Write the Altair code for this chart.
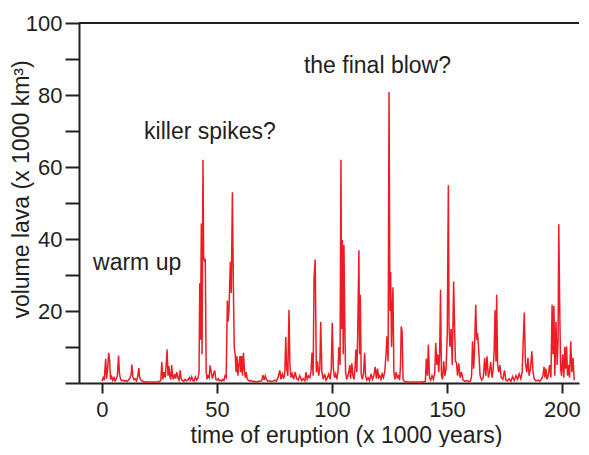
import altair as alt
import pandas as pd

# ---- data (time in kyr, volume in 1000 km^3) ----
t_warmup = [0.0, 0.5, 1.0, 1.3, 1.6, 2.0, 2.4, 2.9, 3.3, 3.7,
            4.2, 4.7, 5.2, 5.7, 6.2, 6.7, 7.2, 7.6, 8.1, 8.6,
            9.2, 9.8, 10.4, 11.0, 11.6, 12.2, 12.7, 13.0, 13.4, 13.9,
            14.4, 15.0, 15.6, 16.0, 16.4, 16.9, 17.5, 18.2, 19.0, 20.0,
            21.0, 22.0, 23.0, 24.0, 25.0, 25.6, 26.0, 26.5, 27.0, 27.5,
            28.0, 28.3, 28.7, 29.1, 29.5, 29.9, 30.3, 30.6, 31.0, 31.5,
            32.0, 32.5, 33.0, 33.5, 34.0, 34.4, 34.9, 35.5, 36.1, 36.7,
            37.3, 38.0, 38.5, 39.0, 39.5, 40.0, 40.6, 41.2, 41.8, 42.2]
v_warmup = [0.5, 1.5, 0.8, 4.0, 6.7, 1.2, 3.5, 8.4, 6.3, 1.0,
            1.8, 0.7, 1.5, 0.6, 1.2, 2.0, 7.6, 2.5, 1.0, 0.6,
            0.8, 0.5, 0.7, 0.4, 0.9, 1.5, 2.5, 5.1, 1.8, 0.9,
            1.2, 0.6, 2.0, 4.2, 1.5, 0.8, 0.5, 0.4, 0.3, 0.3,
            0.3, 0.3, 0.3, 0.3, 0.4, 0.8, 5.8, 1.0, 3.0, 1.5,
            6.0, 9.3, 2.0, 4.7, 1.8, 1.0, 5.0, 2.2, 1.0, 2.5,
            1.2, 3.0, 1.5, 0.8, 3.5, 1.2, 0.7, 0.5, 1.0, 0.6,
            0.8, 1.5, 0.8, 1.7, 0.7, 0.5, 1.7, 0.8, 1.5, 3.0]

t_spikes = [42.5, 42.8, 43.2, 43.5, 43.9, 44.2, 44.6, 44.9, 45.3, 45.7,
            46.1, 46.6, 47.0, 47.5, 48.0, 48.5, 49.0, 49.5, 50.0, 50.5,
            51.0, 51.5, 52.0, 52.5, 53.0, 53.5, 54.0, 54.5, 54.8, 55.2,
            55.8, 56.2, 56.7, 57.1, 57.5, 57.9, 58.3, 58.7, 59.1, 59.5,
            60.0, 60.3, 60.7, 61.1, 61.5, 61.9, 62.3, 62.7, 63.1, 63.6,
            64.2, 64.8, 65.5, 66.2, 67.0, 67.8, 68.6, 69.4, 70.0, 70.5,
            71.0, 71.5, 72.0, 72.8, 73.6, 74.4, 75.2]
v_spikes = [27.7, 12.0, 44.3, 8.0, 62.0, 35.0, 33.7, 34.5, 3.0, 1.0,
            2.0, 1.5, 4.9, 3.0, 1.2, 2.5, 3.5, 1.0, 0.8, 1.2,
            0.6, 0.8, 0.5, 1.0, 0.7, 2.0, 1.5, 22.9, 17.0, 20.0,
            33.7, 25.0, 53.0, 27.7, 10.0, 8.0, 3.0, 7.5, 2.0, 5.0,
            7.5, 3.0, 7.5, 2.0, 8.4, 4.0, 1.5, 3.0, 1.2, 0.8,
            0.5, 0.7, 0.4, 0.5, 0.3, 0.4, 0.5, 0.6, 2.2, 0.8,
            2.0, 1.0, 0.5, 0.6, 0.4, 0.5, 0.8]

t_mid = [75.8, 76.5, 77.3, 77.8, 78.4, 79.0, 79.5, 79.9, 80.3, 80.8,
         81.3, 81.7, 82.2, 82.7, 83.3, 84.0, 84.6, 85.3, 86.0, 86.8,
         87.5, 88.2, 88.7, 89.2, 89.8, 90.4, 90.9, 91.3, 91.8, 92.2,
         92.7, 93.2, 93.7, 94.2, 94.7, 95.1, 95.6, 96.2, 96.8, 97.4,
         98.0, 98.6, 99.2, 99.7, 100.1, 100.6, 101.1, 101.6, 102.1, 102.6,
         103.0, 103.5, 103.9, 104.2, 104.5, 104.9, 105.2, 105.5, 105.9, 106.4,
         106.9, 107.4, 107.7, 108.1, 108.6, 109.1, 109.6, 110.0, 110.4, 110.8,
         111.2, 111.7, 112.0, 112.3, 112.7, 113.2, 113.7, 114.2, 114.6, 115.1,
         115.7, 116.3, 117.0, 117.6, 118.2, 118.8, 119.3, 119.8, 120.3, 120.8,
         121.3, 121.8, 122.4, 123.0, 123.5]
v_mid = [0.5, 1.5, 3.5, 1.0, 2.5, 1.2, 3.0, 12.8, 4.0, 2.0,
         20.3, 5.0, 1.5, 2.5, 1.0, 3.0, 1.2, 0.8, 2.0, 0.7,
         1.2, 0.6, 3.0, 1.0, 2.0, 1.5, 3.5, 8.4, 2.0, 29.3,
         34.3, 3.0, 6.0, 2.0, 4.0, 17.0, 3.0, 1.0, 2.5, 0.8,
         1.5, 2.5, 1.0, 4.0, 16.7, 4.0, 1.5, 2.5, 1.0, 3.0,
         10.0, 5.0, 62.0, 15.0, 39.7, 8.0, 38.3, 20.0, 3.0, 1.0,
         2.0, 3.5, 5.0, 1.2, 5.5, 2.0, 1.0, 4.0, 9.3, 3.0,
         13.9, 36.9, 8.0, 24.5, 2.5, 1.0, 2.5, 8.4, 2.0, 0.8,
         1.5, 0.7, 2.5, 1.0, 2.0, 4.5, 1.2, 4.0, 1.5, 2.0,
         1.0, 2.5, 1.5, 3.5, 8.0]

t_final = [123.9, 124.4, 124.8, 125.2, 125.5, 125.9, 126.2, 126.5, 126.9, 127.4,
           127.9, 128.4, 128.9, 129.4, 129.8, 130.1, 130.5, 130.9, 131.5, 133.0,
           135.0, 137.0, 139.0, 140.2]
v_final = [13.0, 6.0, 80.8, 20.0, 30.8, 10.0, 20.0, 26.6, 3.0, 1.0,
           3.0, 1.5, 2.0, 0.8, 5.0, 15.7, 14.3, 1.0, 0.4, 0.3,
           0.3, 0.3, 0.3, 0.4]

t_late = [140.6, 141.0, 141.5, 141.9, 142.4, 142.9, 143.5, 144.1, 144.7, 145.1,
          145.6, 146.0, 146.4, 146.8, 147.2, 147.6, 148.1, 148.6, 149.1, 149.6,
          150.1, 150.6, 150.9, 151.3, 151.8, 152.3, 152.9, 153.3, 153.7, 154.1,
          154.6, 155.1, 155.7, 156.3, 157.0, 157.8, 158.6, 159.4, 160.2, 160.7,
          161.1, 161.6, 162.0, 162.5, 162.9, 163.3, 163.8, 164.4, 165.1, 165.8,
          166.4, 166.9, 167.4, 168.0, 168.5, 169.0, 169.6, 170.1, 170.5, 170.9,
          171.3, 171.6, 172.0, 172.5, 173.0, 173.6, 174.3, 175.0, 175.6, 176.3,
          177.0, 177.8, 178.5, 179.2, 180.0, 180.7, 181.4, 182.1, 182.7, 183.1,
          183.6, 184.1, 184.7, 185.2, 185.7, 186.3, 186.9, 187.4, 188.0, 188.7,
          189.5, 190.3, 191.0, 191.7, 192.2, 192.6, 193.0, 193.5, 194.0, 194.6,
          195.2, 195.7, 196.1, 196.5, 196.9, 197.4, 197.9, 198.3, 198.6, 199.0,
          199.4, 199.8, 200.3, 200.8, 201.2, 201.6, 202.0, 202.4, 202.8, 203.3,
          203.8, 204.3, 204.8, 205.3]
v_late = [0.5, 6.7, 2.0, 10.7, 1.5, 0.8, 2.0, 1.0, 3.0, 11.1,
          5.0, 8.0, 3.0, 8.0, 25.9, 2.0, 1.0, 6.0, 2.0, 4.0,
          13.0, 54.9, 15.7, 10.0, 15.0, 5.0, 28.2, 15.0, 6.0, 5.7,
          2.0, 5.5, 1.5, 3.0, 0.8, 0.5, 0.7, 0.4, 0.6, 2.0,
          11.6, 4.0, 10.0, 21.7, 12.0, 13.9, 9.0, 2.0, 0.8, 1.5,
          7.0, 2.0, 7.4, 1.5, 3.0, 5.8, 1.5, 4.0, 8.8, 20.2,
          6.0, 24.5, 5.0, 3.0, 5.0, 1.5, 1.0, 3.5, 0.8, 0.6,
          1.2, 0.5, 1.8, 0.7, 2.0, 1.0, 2.5, 1.2, 3.0, 10.7,
          19.6, 5.5, 3.0, 7.0, 2.0, 4.0, 8.8, 3.0, 1.0, 0.6,
          0.8, 0.5, 1.0, 2.0, 4.5, 1.5, 4.0, 1.0, 2.0, 5.0,
          1.5, 21.7, 8.0, 21.4, 2.0, 17.0, 5.0, 12.0, 44.1, 21.7,
          4.0, 2.0, 8.0, 1.5, 10.0, 4.0, 10.2, 2.0, 5.0, 1.5,
          11.6, 3.0, 7.0, 0.8]

x_ticks = [0, 50, 100, 150, 200]
y_ticks = [0, 10, 20, 30, 40, 50, 60, 70, 80, 90, 100]

ann_text = ["warm up", "killer spikes?", "the final blow?"]
ann_t = [-3.9, 18.3, 87.8]
ann_v = [31.5, 67.7, 86.2]

time = t_warmup + t_spikes + t_mid + t_final + t_late
volume = v_warmup + v_spikes + v_mid + v_final + v_late
df = pd.DataFrame({"t": time, "v": volume})
ann = pd.DataFrame({"t": ann_t, "v": ann_v, "label": ann_text})
top = pd.DataFrame({"v": [100]})

FONT = "Liberation Sans"
INK = "#231f20"
TXT = "#231f20"

x_scale = alt.Scale(domain=[-10, 207.4], nice=False, zero=False)
y_scale = alt.Scale(domain=[0, 100], nice=False)

x_axis = alt.Axis(values=x_ticks, title="time of eruption (x 1000 years)",
                  tickSize=10, labelPadding=6, titleX=267, titleY=59,
                  titleBaseline="alphabetic")
y_axis = alt.Axis(values=y_ticks,
                  labelExpr="datum.value % 20 == 0 && datum.value > 0 ? datum.label : ''",
                  title="volume lava (x 1000 km³)",
                  tickSize=14, labelPadding=3, titleX=-51, titleY=166,
                  titleBaseline="alphabetic")

line = alt.Chart(df).mark_line(color="#ee1c25", strokeWidth=1.5).encode(
    x=alt.X("t:Q", scale=x_scale, axis=x_axis),
    y=alt.Y("v:Q", scale=y_scale, axis=y_axis),
)

rule = alt.Chart(top).mark_rule(color=INK, strokeWidth=2).encode(
    y=alt.Y("v:Q", scale=y_scale, axis=y_axis)
)

text = alt.Chart(ann).mark_text(align="left", baseline="alphabetic", fontSize=23,
                                font=FONT, color=TXT).encode(
    x=alt.X("t:Q", scale=x_scale, axis=x_axis),
    y=alt.Y("v:Q", scale=y_scale, axis=y_axis),
    text="label:N",
)

chart = alt.layer(line, rule, text).properties(
    width=500, height=360,
    autosize=alt.AutoSizeParams(type="none"),
    padding={"left": 71, "top": 15, "right": 2, "bottom": 64},
).configure_view(stroke=None).configure_axis(
    grid=False, domainColor=INK, domainWidth=2, tickColor=INK, tickWidth=2,
    labelFont=FONT, labelFontSize=22, labelColor=TXT,
    titleFont=FONT, titleFontSize=23, titleColor=TXT, titleFontWeight="normal",
)

chart.save("out.html", embed_options={"renderer": "svg", "actions": False})
